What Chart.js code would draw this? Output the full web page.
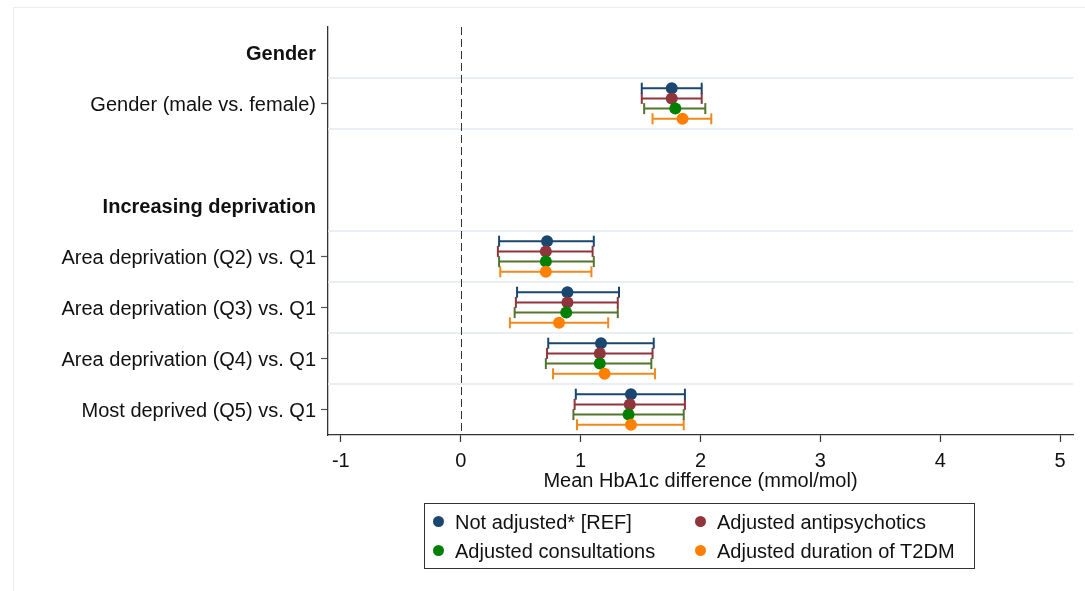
<!DOCTYPE html>
<html>
<head>
<meta charset="utf-8">
<script src="https://cdn.jsdelivr.net/npm/chart.js@4/dist/chart.umd.min.js"></script>
<style>
  body { margin: 0; background: #fff; font-family: "Liberation Sans", Arial, sans-serif; }
  #wrap { position: relative; width: 1085px; height: 591px; overflow: hidden; }
  #frame { position: absolute; left: 13px; top: 7px; right: -2px; bottom: -2px;
           border-left: 1px solid #e9eef0; border-top: 1px solid #e9eef0; }
  #box { position: absolute; left: 0; top: 0; width: 1085px; height: 591px; }
  #legend { position: absolute; left: 424px; top: 503px; width: 551px; height: 66px;
            border: 1px solid #333; box-sizing: border-box; font-size: 20px; color: #111; }
  #legend .item { position: absolute; white-space: nowrap; line-height: 24px; }
  #legend .dot { position: absolute; width: 11px; height: 11px; border-radius: 50%; }
</style>
</head>
<body>
<div id="wrap">
  <div id="frame"></div>
  <div id="box"><canvas id="forest"></canvas></div>
  <div id="legend"></div>
</div>
<script>
// rows from top to bottom; headers are bold, blank row is a spacer
const rowLabels = ['Gender', 'Gender (male vs. female)', '', 'Increasing deprivation',
  'Area deprivation (Q2) vs. Q1', 'Area deprivation (Q3) vs. Q1',
  'Area deprivation (Q4) vs. Q1', 'Most deprived (Q5) vs. Q1'];
const headerRows = [0, 3];
const dataRows = [1, 4, 5, 6, 7];
const separators = [0.5, 1.5, 3.5, 4.5, 5.5, 6.5];
const xTicks = [-1, 0, 1, 2, 3, 4, 5];

const seriesNames = ['Not adjusted* [REF]', 'Adjusted antipsychotics', 'Adjusted consultations', 'Adjusted duration of T2DM'];
const pointColors = ['#1a476f', '#90353b', '#008000', '#ff8000'];
const ciColors = ['#1a476f', '#90353b', '#55752f', '#ee8a1c'];
const rowOffsets = [-0.3, -0.1, 0.1, 0.3];

// estimates and 95% CI per series, in dataRows order
const notAdjEst = [1.76, 0.72, 0.89, 1.17, 1.42];
const notAdjLo  = [1.51, 0.32, 0.47, 0.73, 0.96];
const notAdjHi  = [2.01, 1.11, 1.32, 1.61, 1.87];
const antiEst = [1.76, 0.71, 0.89, 1.16, 1.41];
const antiLo  = [1.51, 0.31, 0.46, 0.72, 0.95];
const antiHi  = [2.01, 1.10, 1.31, 1.60, 1.87];
const consEst = [1.79, 0.71, 0.88, 1.16, 1.40];
const consLo  = [1.53, 0.32, 0.45, 0.71, 0.94];
const consHi  = [2.04, 1.11, 1.31, 1.59, 1.86];
const durEst = [1.85, 0.71, 0.82, 1.20, 1.42];
const durLo  = [1.60, 0.33, 0.41, 0.77, 0.97];
const durHi  = [2.09, 1.09, 1.23, 1.62, 1.86];

const estimates = [notAdjEst, antiEst, consEst, durEst];
const lowers = [notAdjLo, antiLo, consLo, durLo];
const uppers = [notAdjHi, antiHi, consHi, durHi];

const FONT = 'Liberation Sans';
const datasets = [];

seriesNames.forEach(function(name, s) {
  // point estimates, later series drawn on top
  datasets.push({
    type: 'scatter',
    label: name,
    data: dataRows.map((r, i) => ({ x: estimates[s][i], y: r + rowOffsets[s] })),
    backgroundColor: pointColors[s],
    borderWidth: 0,
    pointRadius: 6,
    order: 3 - s
  });
  // confidence interval segments with vertical caps, broken by null points
  const ci = [];
  dataRows.forEach(function(r, i) {
    ci.push({ x: lowers[s][i], y: r + rowOffsets[s] });
    ci.push({ x: uppers[s][i], y: r + rowOffsets[s] });
    ci.push({ x: null, y: null });
  });
  datasets.push({
    type: 'line',
    label: name + ' CI',
    data: ci,
    showLine: true,
    spanGaps: false,
    borderColor: ciColors[s],
    borderWidth: 2,
    pointStyle: 'line',
    pointRotation: 90,
    pointRadius: 5.5,
    pointBorderColor: ciColors[s],
    pointBorderWidth: 2,
    order: 10 + s
  });
});

// light row separators and dashed reference line at zero
const guides = {
  id: 'guides',
  beforeDatasetsDraw(chart) {
    const ctx = chart.ctx, a = chart.chartArea;
    const x = chart.scales.x, y = chart.scales.y;
    ctx.save();
    ctx.strokeStyle = '#e8eef1';
    ctx.lineWidth = 2;
    separators.forEach(function(v) {
      const py = y.getPixelForValue(v);
      ctx.beginPath(); ctx.moveTo(a.left, py); ctx.lineTo(a.right, py); ctx.stroke();
    });
    const px = Math.round(x.getPixelForValue(0)) + 0.5;
    ctx.strokeStyle = '#333';
    ctx.lineWidth = 1;
    ctx.setLineDash([8, 4]);
    ctx.beginPath(); ctx.moveTo(px, a.top); ctx.lineTo(px, a.bottom); ctx.stroke();
    ctx.restore();
  }
};

new Chart(document.getElementById('forest'), {
  data: { datasets: datasets },
  options: {
    responsive: true,
    maintainAspectRatio: false,
    animation: false,
    layout: { padding: { top: 27, right: 12, bottom: 98, left: 0 } },
    plugins: { legend: { display: false }, tooltip: { enabled: false } },
    scales: {
      x: {
        type: 'linear',
        min: -1.107,
        max: 5.107,
        afterBuildTicks: s => { s.ticks = xTicks.map(v => ({ value: v })); },
        afterFit: s => { s.height = 58; },
        grid: { drawOnChartArea: false, tickLength: 7, tickColor: '#333', tickWidth: 1.2 },
        border: { color: '#333', width: 1.3 },
        ticks: { color: '#111', padding: 7, font: { family: FONT, size: 20 } },
        title: { display: true, text: 'Mean HbA1c difference (mmol/mol)', color: '#111',
                 padding: 0, font: { family: FONT, size: 20 } }
      },
      y: {
        type: 'linear',
        reverse: true,
        min: -0.5,
        max: 7.5,
        afterBuildTicks: s => { s.ticks = rowLabels.map((l, i) => ({ value: i })); },
        afterFit: s => { s.width = 328; },
        grid: {
          drawOnChartArea: false,
          tickLength: 7,
          tickWidth: 1.2,
          tickColor: c => (c.tick && dataRows.includes(c.tick.value)) ? '#555' : 'rgba(0,0,0,0)'
        },
        border: { color: '#333', width: 1.3 },
        ticks: {
          autoSkip: false,
          padding: 5,
          labelOffset: 2,
          color: '#111',
          callback: v => rowLabels[v],
          font: c => ({ family: FONT, size: 20,
                        weight: (c.tick && headerRows.includes(c.tick.value)) ? 'bold' : 'normal' })
        }
      }
    }
  },
  plugins: [guides]
});

// two-column framed legend
const legendPos = [[0, 0], [1, 0], [0, 1], [1, 1]];
const legend = document.getElementById('legend');
seriesNames.forEach(function(name, s) {
  const col = legendPos[s][0], row = legendPos[s][1];
  const dot = document.createElement('div');
  dot.className = 'dot';
  dot.style.background = pointColors[s];
  dot.style.left = (8 + col * 262) + 'px';
  dot.style.top = (12 + row * 29) + 'px';
  legend.appendChild(dot);
  const item = document.createElement('div');
  item.className = 'item';
  item.textContent = name;
  item.style.left = (30 + col * 262) + 'px';
  item.style.top = (6 + row * 29) + 'px';
  legend.appendChild(item);
});
</script>
</body>
</html>
